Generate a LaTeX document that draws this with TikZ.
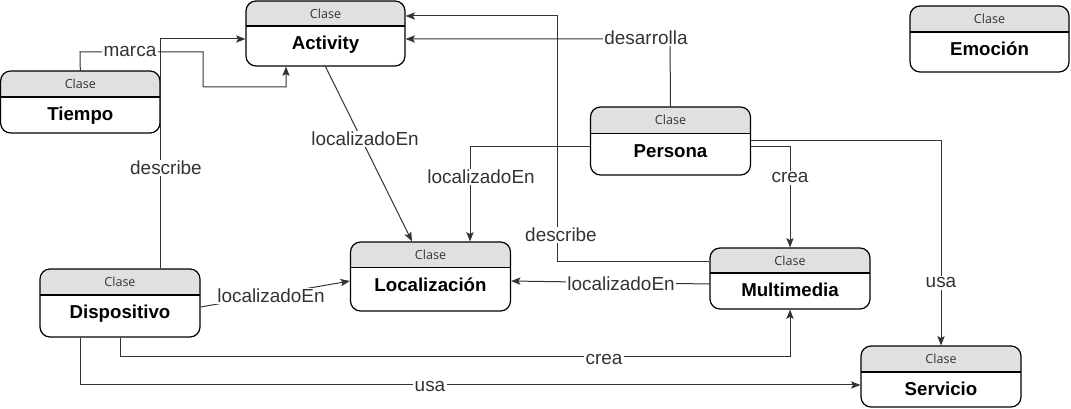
\documentclass[tikz,border=0pt]{standalone}
\usepackage{fontspec}
\setmainfont{Liberation Sans}
\newfontfamily\clasefont{Open Sans}
\usetikzlibrary{arrows.meta,fit,calc}
\definecolor{hdr}{HTML}{E0E0E0}
\definecolor{ink}{HTML}{333333}
\tikzset{
 frame/.style={draw=black, line width=0.9pt, rounded corners=7.5pt, inner sep=0pt},
 hdrtext/.style={font=\clasefont\fontsize{9.4}{11}\selectfont, text=ink},
 titletext/.style={font=\bfseries\fontsize{14}{16}\selectfont, text=black, anchor=base, inner sep=0pt},
 edge/.style={draw=ink, line width=0.75pt},
 arr/.style={edge, -{Stealth[length=7pt,width=5.5pt,inset=1.5pt]}},
 lbl/.style={fill=white, inner sep=1pt, text=ink, font=\fontsize{14.2}{16}\selectfont},
}
\newcommand\clsbox[7]{%
 \begin{scope}
 \clip[rounded corners=7.5pt] (#2,#3) rectangle (#4,#5);
 \fill[hdr] (#2,#3) rectangle (#4,#6);
 \end{scope}
 \draw[line width=0.9pt] (#2,#6) -- (#4,#6);
 \node[frame, fit={(#2,#3) (#4,#5)}] (#1) {};
 \node[hdrtext] (#1-h) at ($(#2,#3)!0.5!(#4,#6)$) {Clase};
 \node[titletext] (#1-t) at ($(#2,#6)!0.5!(#4,#6)+(0,24)$) {#7};
}
\begin{document}
\begin{tikzpicture}[x=0.75pt,y=-0.75pt]
\useasboundingbox (0,0) rectangle (1071,409);
\clsbox{act}{246}{1}{405}{66}{26}{Activity}
\clsbox{tim}{0.6}{71}{160}{133}{97}{Tiempo}
\clsbox{per}{590.5}{107}{750.5}{175}{133.3}{Persona}
\clsbox{loc}{350.5}{242}{510.5}{311}{267.3}{Localización}
\clsbox{dis}{40}{269}{200}{337}{295}{Dispositivo}
\clsbox{mul}{710}{248}{870}{309}{273}{Multimedia}
\clsbox{ser}{861}{346}{1021}{407}{372}{Servicio}
\clsbox{emo}{910}{6}{1069}{72}{32}{Emoción}

\draw[arr] (tim.north) -- (80,52) -- (203,52) -- (203,87) -- (286,87) -- (act.south -| 286,0);
\draw[arr] (dis.north -| 160,0) -- (160,39) -- (act.west |- 0,39);
\draw[arr] (per.north) -- (670,39) -- (act.east |- 0,39);
\draw[arr] (mul.west |- 0,262) -- (557,262) -- (557,16) -- (act.east |- 0,16);
\draw[arr] (act.south) -- (loc.north -| 412,0);
\draw[arr] (per.west |- 0,147) -- (470,147) -- (loc.north -| 470,0);
\draw[arr] (per.east |- 0,147) -- (790,147) -- (mul.north);
\draw[arr] (per.east |- 0,141) -- (941,141) -- (ser.north);
\draw[arr] (mul.west |- 0,284) -- (loc.east |- 0,281);
\draw[arr] (dis.east |- 0,307) -- (loc.west |- 0,281);
\draw[arr] (dis.south -| 120,0) -- (120,357) -- (790,357) -- (mul.south);
\draw[arr] (dis.south -| 80,0) -- (80,385) -- (ser.west |- 0,385);

\node[lbl] (l1) at (130,52) {marca};
\node[lbl] (l2) at (166,168) {describe};
\node[lbl] (l3) at (646,38) {desarrolla};
\node[lbl] (l4) at (561,235) {describe};
\node[lbl] (l5) at (365,139) {localizadoEn};
\node[lbl] (l6) at (481,177) {localizadoEn};
\node[lbl] (l7) at (790,178) {crea};
\node[lbl] (l8) at (941,283) {usa};
\node[lbl] (l9) at (621,284) {localizadoEn};
\node[lbl] (l10) at (271,296) {localizadoEn};
\node[lbl] (l11) at (604,359) {crea};
\node[lbl] (l12) at (430,386) {usa};
\end{tikzpicture}
\end{document}
